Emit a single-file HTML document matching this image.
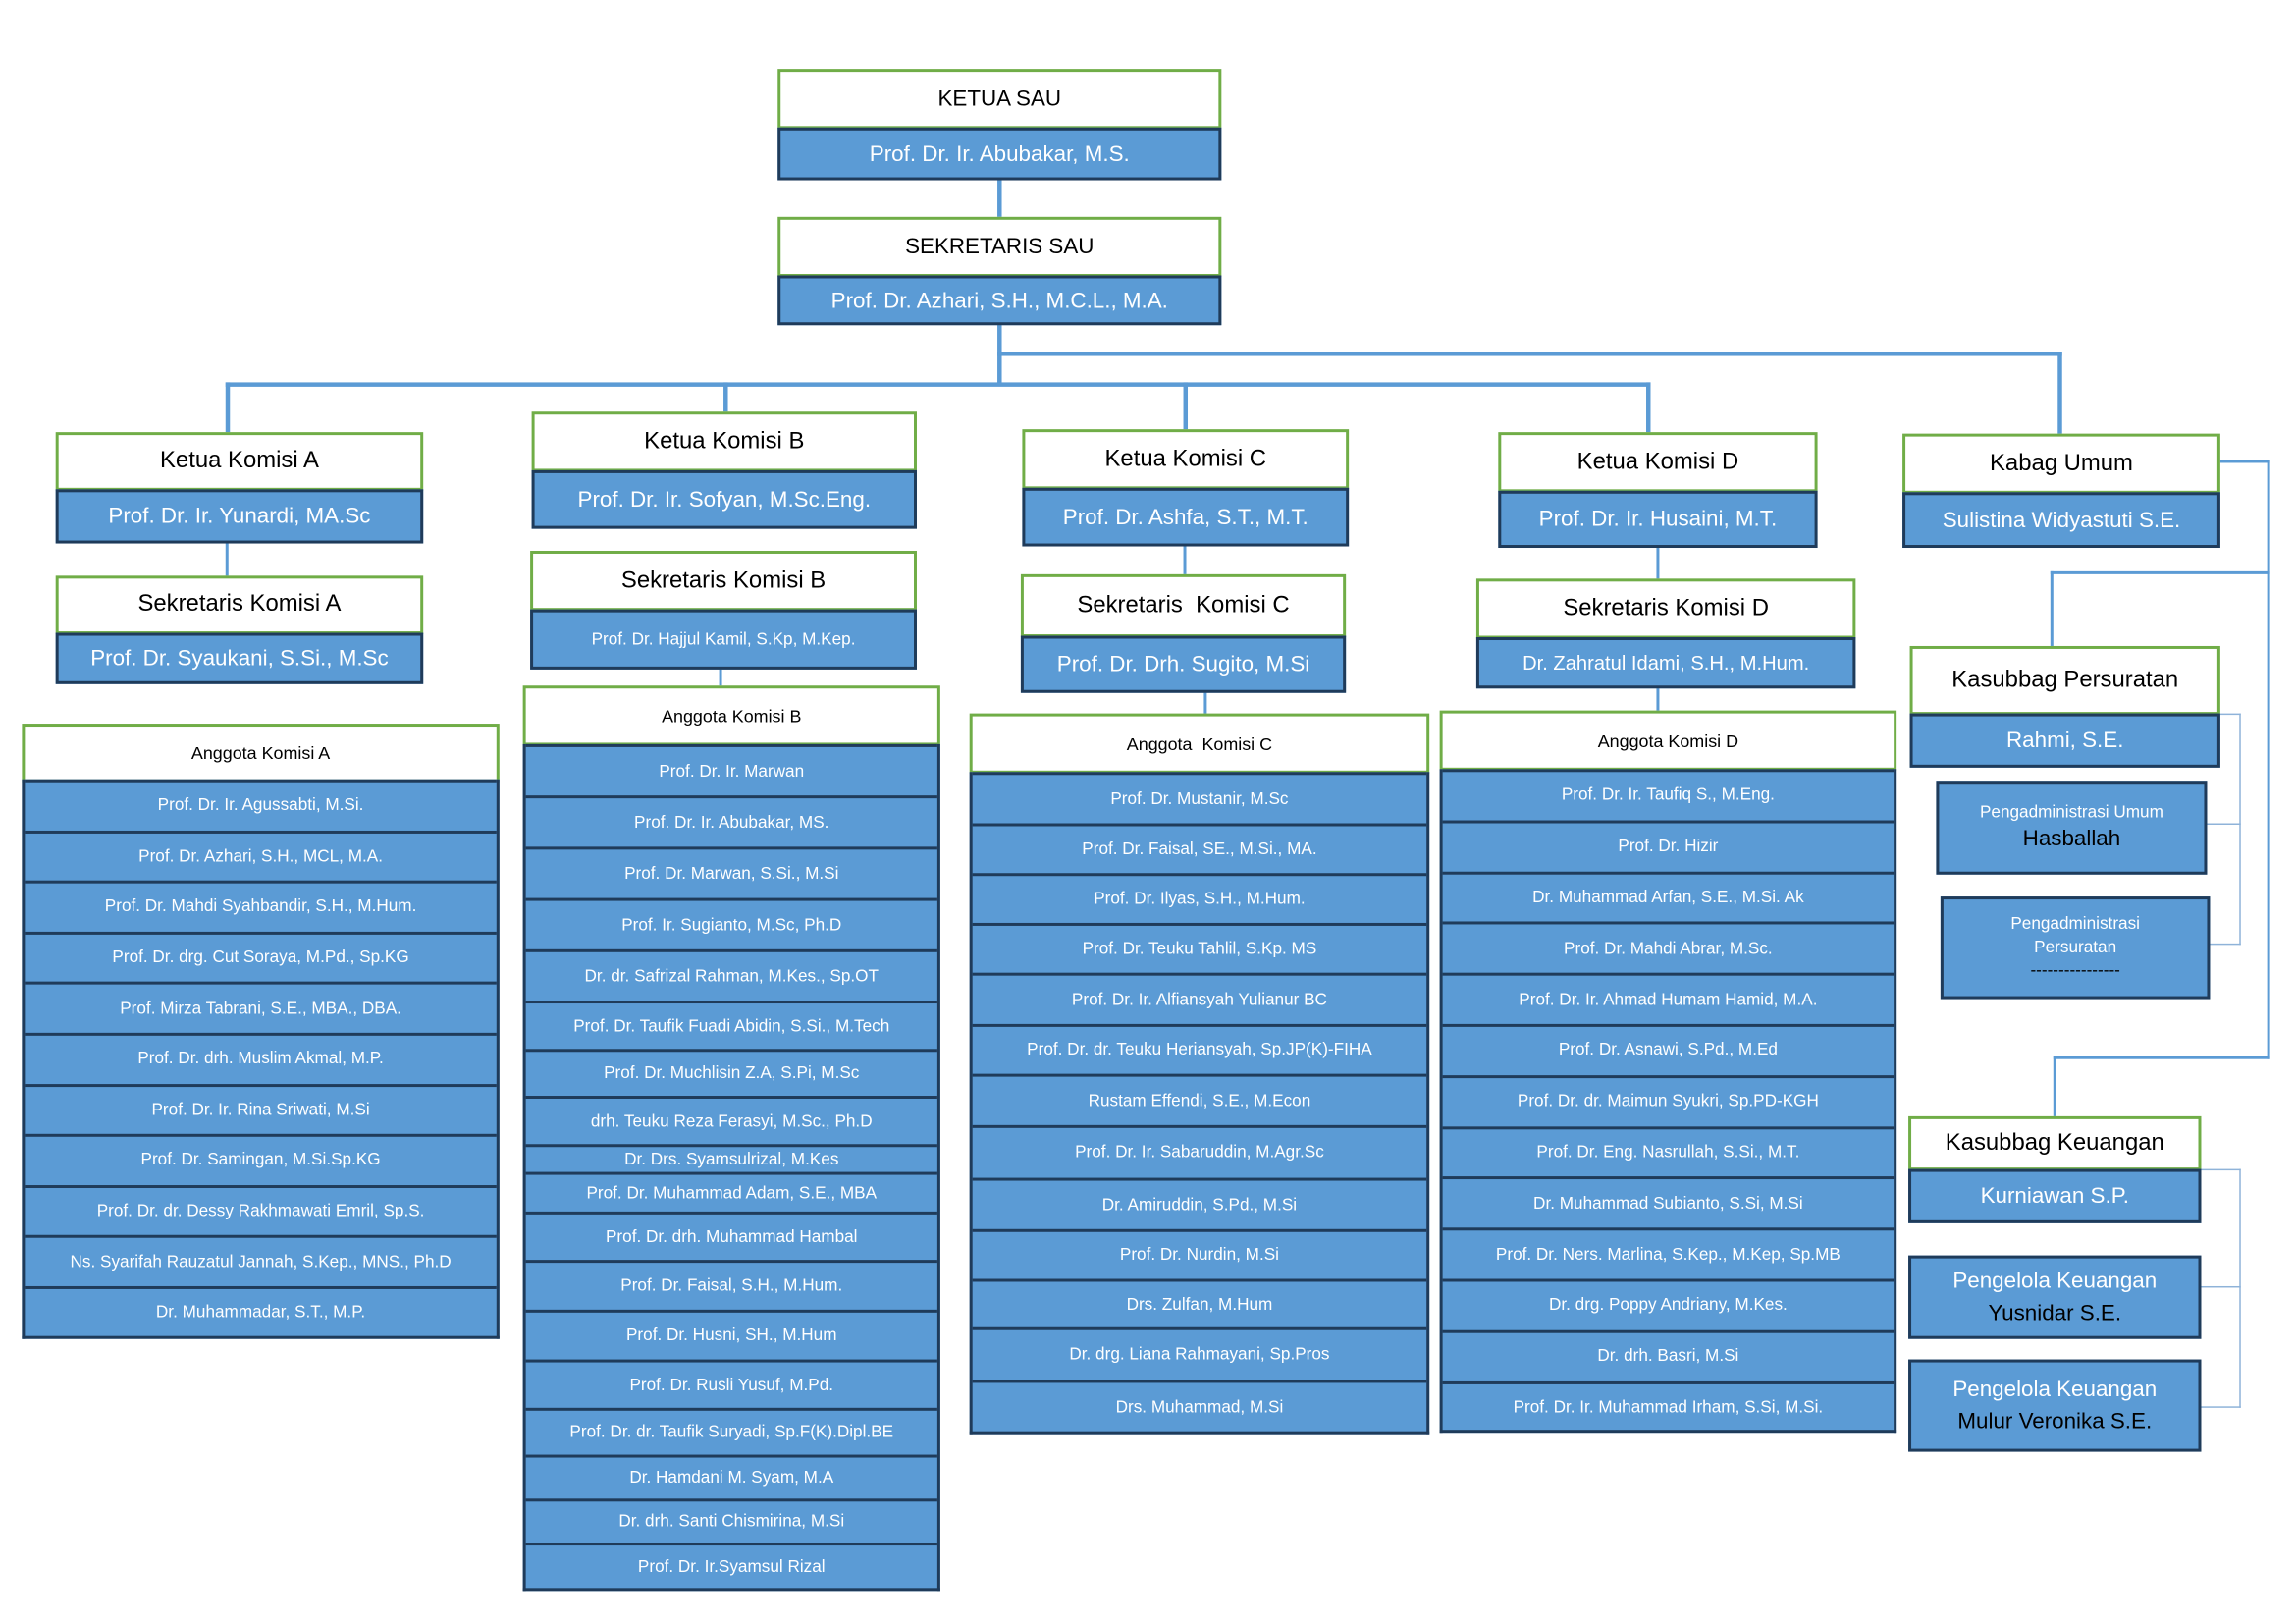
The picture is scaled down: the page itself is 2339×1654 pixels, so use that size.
<!DOCTYPE html>
<html><head><meta charset="utf-8">
<style>
html,body{margin:0;padding:0;background:#fff;}
body{width:2339px;height:1654px;overflow:hidden;position:relative;}
#s{position:absolute;left:0;top:0;width:1560px;height:1103px;transform:scale(1.492);transform-origin:0 0;font-family:"Liberation Sans",sans-serif;}
.w,.b,.l{position:absolute;box-sizing:border-box;display:flex;align-items:center;justify-content:center;text-align:center;}
.w{background:#fff;border:2px solid #70ad47;color:#000;font-size:15px;}
.b{background:#5b9bd5;border:2px solid #1f3b5a;color:#fff;font-size:15px;}
.l{position:absolute;background:#5b9bd5;}
.t{position:absolute;background:#8fb3d9;}
.list{position:absolute;box-sizing:border-box;border:2px solid #1f3b5a;background:#5b9bd5;border-top:none;}
.list div{box-sizing:border-box;border-top:2.5px solid #1f3b5a;color:#fff;font-size:11.5px;display:flex;align-items:center;justify-content:center;text-align:center;white-space:nowrap;overflow:hidden;}
.sm{font-size:11.5px}
</style></head><body><div id="s">
<!-- connectors -->
<div class="l" style="left:681px;top:122px;width:3px;height:27px"></div>
<div class="l" style="left:681px;top:221px;width:3px;height:42px"></div>
<div class="l" style="left:154px;top:261px;width:973px;height:3px"></div>
<div class="l" style="left:681px;top:240px;width:727px;height:3px"></div>
<div class="l" style="left:1405px;top:240px;width:3px;height:57px"></div>
<div class="l" style="left:154px;top:261px;width:3px;height:35px"></div>
<div class="l" style="left:494px;top:261px;width:3px;height:21px"></div>
<div class="l" style="left:808px;top:261px;width:3px;height:33px"></div>
<div class="l" style="left:1124px;top:261px;width:3px;height:35px"></div>
<div class="l" style="left:154px;top:370px;width:2px;height:24px"></div>
<div class="l" style="left:491px;top:456px;width:2px;height:13px"></div>
<div class="l" style="left:808px;top:372px;width:2px;height:21px"></div>
<div class="l" style="left:822px;top:472px;width:2px;height:16px"></div>
<div class="l" style="left:1131px;top:373px;width:2px;height:23px"></div>
<div class="l" style="left:1131px;top:469px;width:2px;height:17px"></div>
<div class="l" style="left:1515px;top:314px;width:35px;height:2px"></div>
<div class="l" style="left:1548px;top:314px;width:2px;height:409px"></div>
<div class="l" style="left:1402px;top:721px;width:148px;height:2px"></div>
<div class="l" style="left:1402px;top:721px;width:2px;height:42px"></div>
<div class="l" style="left:1400px;top:390px;width:150px;height:2px"></div>
<div class="l" style="left:1400px;top:390px;width:2px;height:52px"></div>
<div class="t" style="left:1515px;top:487px;width:15px;height:1px"></div>
<div class="t" style="left:1529px;top:487px;width:1px;height:158px"></div>
<div class="t" style="left:1506px;top:562px;width:24px;height:1px"></div>
<div class="t" style="left:1508px;top:644px;width:22px;height:1px"></div>
<div class="t" style="left:1502px;top:798px;width:28px;height:1px"></div>
<div class="t" style="left:1529px;top:798px;width:1px;height:163px"></div>
<div class="t" style="left:1502px;top:878px;width:28px;height:1px"></div>
<div class="t" style="left:1502px;top:960px;width:28px;height:1px"></div>

<!-- top -->
<div class="w" style="left:531px;top:47px;width:303px;height:41px">KETUA SAU</div>
<div class="b" style="left:531px;top:87px;width:303px;height:36px">Prof. Dr. Ir. Abubakar, M.S.</div>
<div class="w" style="left:531px;top:148px;width:303px;height:41px">SEKRETARIS SAU</div>
<div class="b" style="left:531px;top:188px;width:303px;height:34px">Prof. Dr. Azhari, S.H., M.C.L., M.A.</div>

<!-- A -->
<div class="w" style="left:38px;top:295px;width:251px;height:40px;font-size:16px">Ketua Komisi A</div>
<div class="b" style="left:38px;top:334px;width:251px;height:37px">Prof. Dr. Ir. Yunardi, MA.Sc</div>
<div class="w" style="left:38px;top:393px;width:251px;height:40px;font-size:16px">Sekretaris Komisi A</div>
<div class="b" style="left:38px;top:432px;width:251px;height:35px">Prof. Dr. Syaukani, S.Si., M.Sc</div>
<div class="w" style="left:15px;top:494px;width:326px;height:40px;font-size:12px">Anggota Komisi A</div>
<div class="list" style="left:15px;top:532px;width:326px;height:382px">
<div style="height:34.6px">Prof. Dr. Ir. Agussabti, M.Si.</div>
<div style="height:34.6px">Prof. Dr. Azhari, S.H., MCL, M.A.</div>
<div style="height:34.6px">Prof. Dr. Mahdi Syahbandir, S.H., M.Hum.</div>
<div style="height:34.6px">Prof. Dr. drg. Cut Soraya, M.Pd., Sp.KG</div>
<div style="height:34.6px">Prof. Mirza Tabrani, S.E., MBA., DBA.</div>
<div style="height:34.6px">Prof. Dr. drh. Muslim Akmal, M.P.</div>
<div style="height:34.6px">Prof. Dr. Ir. Rina Sriwati, M.Si</div>
<div style="height:34.6px">Prof. Dr. Samingan, M.Si.Sp.KG</div>
<div style="height:34.6px">Prof. Dr. dr. Dessy Rakhmawati Emril, Sp.S.</div>
<div style="height:34.6px">Ns. Syarifah Rauzatul Jannah, S.Kep., MNS., Ph.D</div>
<div style="height:34.6px">Dr. Muhammadar, S.T., M.P.</div>
</div>

<!-- B -->
<div class="w" style="left:363px;top:281px;width:263px;height:41px;font-size:16px">Ketua Komisi B</div>
<div class="b" style="left:363px;top:321px;width:263px;height:40px">Prof. Dr. Ir. Sofyan, M.Sc.Eng.</div>
<div class="w" style="left:362px;top:376px;width:264px;height:41px;font-size:16px">Sekretaris Komisi B</div>
<div class="b sm" style="left:362px;top:416px;width:264px;height:41px">Prof. Dr. Hajjul Kamil, S.Kp, M.Kep.</div>
<div class="w" style="left:357px;top:468px;width:285px;height:41px;font-size:12px">Anggota Komisi B</div>
<div class="list" style="left:357px;top:508px;width:285px;height:578px">
<div style="height:35px">Prof. Dr. Ir. Marwan</div>
<div style="height:35px">Prof. Dr. Ir. Abubakar, MS.</div>
<div style="height:35px">Prof. Dr. Marwan, S.Si., M.Si</div>
<div style="height:35px">Prof. Ir. Sugianto, M.Sc, Ph.D</div>
<div style="height:35px">Dr. dr. Safrizal Rahman, M.Kes., Sp.OT</div>
<div style="height:33px">Prof. Dr. Taufik Fuadi Abidin, S.Si., M.Tech</div>
<div style="height:32px">Prof. Dr. Muchlisin Z.A, S.Pi, M.Sc</div>
<div style="height:33px">drh. Teuku Reza Ferasyi, M.Sc., Ph.D</div>
<div style="height:19px">Dr. Drs. Syamsulrizal, M.Kes</div>
<div style="height:27px">Prof. Dr. Muhammad Adam, S.E., MBA</div>
<div style="height:33px">Prof. Dr. drh. Muhammad Hambal</div>
<div style="height:34px">Prof. Dr. Faisal, S.H., M.Hum.</div>
<div style="height:34px">Prof. Dr. Husni, SH., M.Hum</div>
<div style="height:33px">Prof. Dr. Rusli Yusuf, M.Pd.</div>
<div style="height:32px">Prof. Dr. dr. Taufik Suryadi, Sp.F(K).Dipl.BE</div>
<div style="height:30px">Dr. Hamdani M. Syam, M.A</div>
<div style="height:30px">Dr. drh. Santi Chismirina, M.Si</div>
<div style="height:32px">Prof. Dr. Ir.Syamsul Rizal</div>
</div>

<!-- C -->
<div class="w" style="left:698px;top:293px;width:223px;height:41px;font-size:16px">Ketua Komisi C</div>
<div class="b" style="left:698px;top:333px;width:223px;height:40px">Prof. Dr. Ashfa, S.T., M.T.</div>
<div class="w" style="left:697px;top:392px;width:222px;height:43px;font-size:16px">Sekretaris&nbsp; Komisi C</div>
<div class="b" style="left:697px;top:434px;width:222px;height:39px">Prof. Dr. Drh. Sugito, M.Si</div>
<div class="w" style="left:662px;top:487px;width:314px;height:41px;font-size:12px">Anggota&nbsp; Komisi C</div>
<div class="list" style="left:662px;top:527px;width:314px;height:452px">
<div style="height:35px">Prof. Dr. Mustanir, M.Sc</div>
<div style="height:34px">Prof. Dr. Faisal, SE., M.Si., MA.</div>
<div style="height:34px">Prof. Dr. Ilyas, S.H., M.Hum.</div>
<div style="height:34px">Prof. Dr. Teuku Tahlil, S.Kp. MS</div>
<div style="height:35px">Prof. Dr. Ir. Alfiansyah Yulianur BC</div>
<div style="height:34px">Prof. Dr. dr. Teuku Heriansyah, Sp.JP(K)-FIHA</div>
<div style="height:35px">Rustam Effendi, S.E., M.Econ</div>
<div style="height:36px">Prof. Dr. Ir. Sabaruddin, M.Agr.Sc</div>
<div style="height:35px">Dr. Amiruddin, S.Pd., M.Si</div>
<div style="height:34px">Prof. Dr. Nurdin, M.Si</div>
<div style="height:33px">Drs. Zulfan, M.Hum</div>
<div style="height:36px">Dr. drg. Liana Rahmayani, Sp.Pros</div>
<div style="height:35px">Drs. Muhammad, M.Si</div>
</div>

<!-- D -->
<div class="w" style="left:1023px;top:295px;width:218px;height:41px;font-size:16px">Ketua Komisi D</div>
<div class="b" style="left:1023px;top:335px;width:218px;height:39px">Prof. Dr. Ir. Husaini, M.T.</div>
<div class="w" style="left:1008px;top:395px;width:259px;height:41px;font-size:16px">Sekretaris Komisi D</div>
<div class="b" style="left:1008px;top:435px;width:259px;height:35px;font-size:13.5px">Dr. Zahratul Idami, S.H., M.Hum.</div>
<div class="w" style="left:983px;top:485px;width:312px;height:41px;font-size:12px">Anggota Komisi D</div>
<div class="list" style="left:983px;top:525px;width:312px;height:453px">
<div style="height:34.8px">Prof. Dr. Ir. Taufiq S., M.Eng.</div>
<div style="height:34.8px">Prof. Dr. Hizir</div>
<div style="height:34.8px">Dr. Muhammad Arfan, S.E., M.Si. Ak</div>
<div style="height:34.8px">Prof. Dr. Mahdi Abrar, M.Sc.</div>
<div style="height:34.8px">Prof. Dr. Ir. Ahmad Humam Hamid, M.A.</div>
<div style="height:34.8px">Prof. Dr. Asnawi, S.Pd., M.Ed</div>
<div style="height:34.8px">Prof. Dr. dr. Maimun Syukri, Sp.PD-KGH</div>
<div style="height:34.8px">Prof. Dr. Eng. Nasrullah, S.Si., M.T.</div>
<div style="height:34.8px">Dr. Muhammad Subianto, S.Si, M.Si</div>
<div style="height:34.8px">Prof. Dr. Ners. Marlina, S.Kep., M.Kep, Sp.MB</div>
<div style="height:34.8px">Dr. drg. Poppy Andriany, M.Kes.</div>
<div style="height:34.8px">Dr. drh. Basri, M.Si</div>
<div style="height:34.8px">Prof. Dr. Ir. Muhammad Irham, S.Si, M.Si.</div>
</div>

<!-- Umum -->
<div class="w" style="left:1299px;top:296px;width:217px;height:41px;font-size:16px">Kabag Umum</div>
<div class="b" style="left:1299px;top:336px;width:217px;height:38px">Sulistina Widyastuti S.E.</div>
<div class="w" style="left:1304px;top:441px;width:212px;height:47px;font-size:16px">Kasubbag Persuratan</div>
<div class="b" style="left:1304px;top:487px;width:212px;height:37px">Rahmi, S.E.</div>
<div class="b" style="left:1322px;top:533px;width:185px;height:64px;flex-direction:column;font-size:11.5px"><span>Pengadministrasi Umum</span><span style="color:#000;font-size:15px;margin-top:3px">Hasballah</span></div>
<div class="b" style="left:1325px;top:612px;width:184px;height:70px;flex-direction:column;font-size:11.5px;line-height:16px"><span>Pengadministrasi</span><span>Persuratan</span><span style="color:#000">----------------</span></div>
<div class="w" style="left:1303px;top:762px;width:200px;height:37px;font-size:16px">Kasubbag Keuangan</div>
<div class="b" style="left:1303px;top:798px;width:200px;height:37px">Kurniawan S.P.</div>
<div class="b" style="left:1303px;top:857px;width:200px;height:57px;flex-direction:column;line-height:22px"><span>Pengelola Keuangan</span><span style="color:#000">Yusnidar S.E.</span></div>
<div class="b" style="left:1303px;top:928px;width:200px;height:63px;flex-direction:column;line-height:22px"><span>Pengelola Keuangan</span><span style="color:#000">Mulur Veronika S.E.</span></div>
</div></body></html>
